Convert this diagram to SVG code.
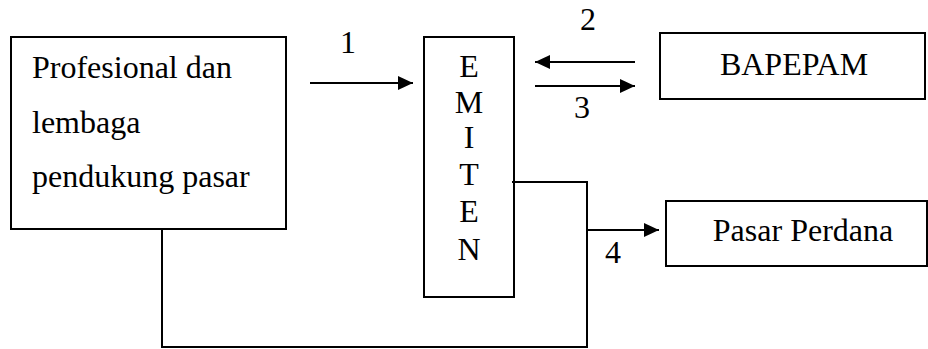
<svg xmlns="http://www.w3.org/2000/svg" width="928" height="349" viewBox="0 0 928 349">
<defs>
<style>
.box{fill:#fff;stroke:#000;stroke-width:2}
.ln{fill:none;stroke:#000;stroke-width:2}
text{font-family:"Liberation Serif","Times New Roman",serif;font-size:32px;fill:#000}
.c{text-anchor:middle}
</style>
<marker id="ah" markerWidth="15" markerHeight="14" refX="15" refY="7" orient="auto" markerUnits="userSpaceOnUse">
<path d="M0,0 L15,7 L0,14 Z" fill="#000"/>
</marker>
</defs>
<rect width="928" height="349" fill="#fff"/>
<g id="profesional">
<rect class="box" x="11" y="37" width="275" height="192"/>
<text x="32" y="78">Profesional dan</text>
<text x="32" y="133">lembaga</text>
<text x="32" y="187">pendukung pasar</text>
</g>
<g id="emiten">
<rect class="box" x="424" y="37" width="90" height="260"/>
<text class="c" x="469" y="77">E</text>
<text class="c" x="469" y="113">M</text>
<text class="c" x="469" y="148">I</text>
<text class="c" x="469" y="185">T</text>
<text class="c" x="469" y="222">E</text>
<text class="c" x="469" y="260">N</text>
</g>
<g id="bapepam">
<rect class="box" x="660" y="33" width="265" height="66"/>
<text class="c" x="794" y="75">BAPEPAM</text>
</g>
<g id="pasar-perdana">
<rect class="box" x="666" y="201" width="261" height="65"/>
<text class="c" x="803" y="241">Pasar Perdana</text>
</g>
<g id="connectors">
<line class="ln" x1="310" y1="83" x2="413" y2="83" marker-end="url(#ah)"/>
<line class="ln" x1="635" y1="62" x2="535" y2="62" marker-end="url(#ah)"/>
<line class="ln" x1="535" y1="86" x2="635" y2="86" marker-end="url(#ah)"/>
<polyline class="ln" points="512,182 587,182 587,347 162,347 162,229"/>
<line class="ln" x1="587" y1="230" x2="659" y2="230" marker-end="url(#ah)"/>
<text class="c" x="348" y="53">1</text>
<text class="c" x="588" y="30">2</text>
<text class="c" x="582" y="118">3</text>
<text class="c" x="613" y="263">4</text>
</g>
</svg>
